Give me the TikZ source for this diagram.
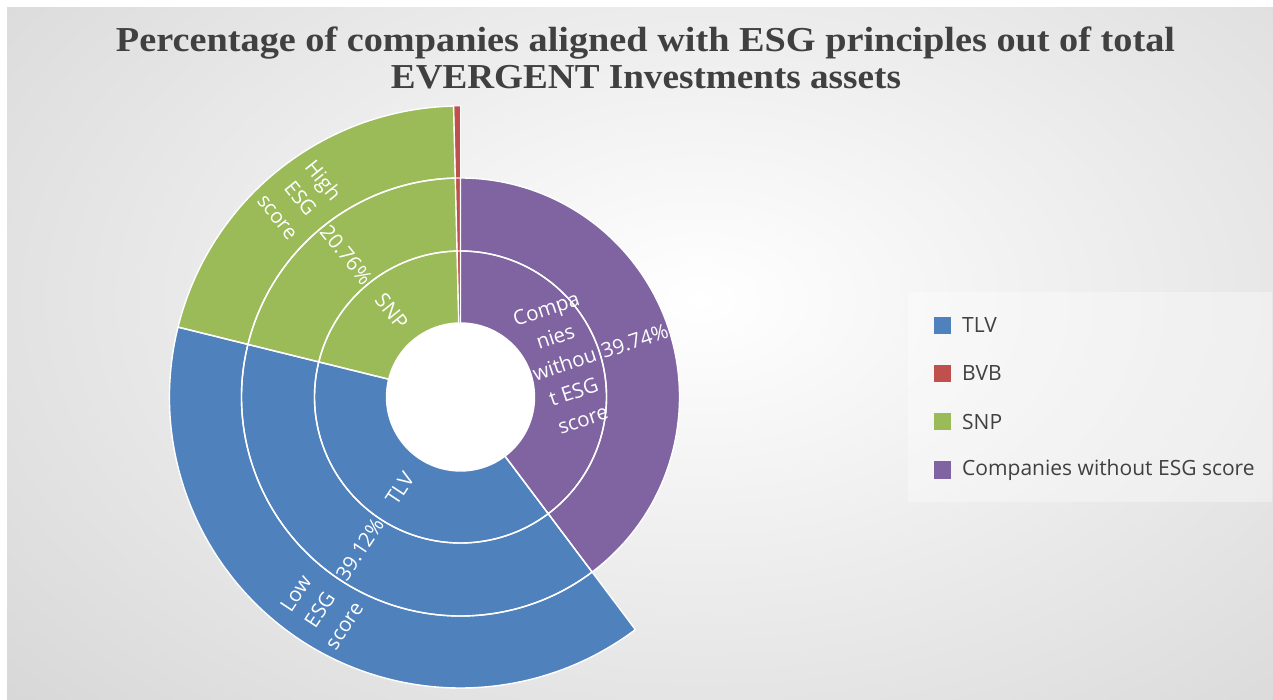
\documentclass[tikz,border=0pt]{standalone}
\usepackage{fontspec}
\setmainfont{Open Sans}
\newfontfamily\titlefont{Liberation Serif}
\usepackage{graphicx}
\definecolor{tlv}{HTML}{4F81BD}
\definecolor{bvb}{HTML}{C0504D}
\definecolor{snp}{HTML}{9BBB59}
\definecolor{cwe}{HTML}{8064A2}
\definecolor{txt}{HTML}{404040}
\definecolor{bgout}{RGB}{192,192,192}
\newcommand\sbpath[5]{\path[#1] (#2:#4) arc[start angle=#2, end angle=#3, radius=#4] -- (#3:#5) arc[start angle=#3, end angle=#2, radius=#5] -- cycle;}
\tikzset{
  seglabel/.style={text=white, font=\fontsize{20.5}{29}\selectfont, align=center, inner sep=0pt},
  legtext/.style={text=txt, font=\fontsize{21}{24}\selectfont, anchor=west, inner sep=0pt},
  legkey/.style={minimum size=17pt, inner sep=0pt},
  sep/.style={draw=white, line width=1.4pt, line join=round},
  titletext/.style={text=txt, font=\titlefont\fontsize{35}{38}\selectfont\bfseries, anchor=base, inner sep=0pt}
}
\begin{document}
\begin{tikzpicture}[x=1pt,y=1pt]
\useasboundingbox (0,0) rectangle (1273,699);
\fill[white] (0,0) rectangle (1273,699);
\begin{scope}
  \clip (7,0) rectangle (1273,691);
  \shade[inner color=white, outer color=bgout] (700,399) ellipse [x radius=1500, y radius=950];
\end{scope}
% title
\node[titletext] (title1) at (645.5,647) {\resizebox{1059pt}{\height}{Percentage of companies aligned with ESG principles out of total}};
\node[titletext] (title2) at (646,610) {\resizebox{510pt}{\height}{EVERGENT Investments assets}};
% sunburst
\begin{scope}[shift={(460.5,302)}]
  % fills
  \sbpath{fill=cwe}{90}{-53.064}{74}{146}
  \sbpath{fill=cwe}{90}{-53.064}{146}{219}
  \sbpath{fill=tlv}{-53.064}{-193.896}{74}{146}
  \sbpath{fill=tlv}{-53.064}{-193.896}{146}{219}
  \sbpath{fill=tlv}{-53.064}{-193.896}{219}{291}
  \sbpath{fill=snp}{-193.896}{-268.632}{74}{146}
  \sbpath{fill=snp}{-193.896}{-268.632}{146}{219}
  \sbpath{fill=snp}{-193.896}{-268.632}{219}{291}
  \sbpath{fill=bvb}{-268.632}{-270}{74}{146}
  \sbpath{fill=bvb}{-268.632}{-270}{146}{219}
  \sbpath{fill=bvb}{-268.632}{-270}{219}{291}
  % white borders
  \sbpath{sep}{90}{-53.064}{74}{146}
  \sbpath{sep}{90}{-53.064}{146}{219}
  \sbpath{sep}{-53.064}{-193.896}{74}{146}
  \sbpath{sep}{-53.064}{-193.896}{146}{219}
  \sbpath{sep}{-53.064}{-193.896}{219}{291}
  \sbpath{sep}{-193.896}{-268.632}{74}{146}
  \sbpath{sep}{-193.896}{-268.632}{146}{219}
  \sbpath{sep}{-193.896}{-268.632}{219}{291}
  \sbpath{draw=white, line width=0.8pt}{-268.632}{-270}{74}{146}
  \sbpath{draw=white, line width=0.8pt}{-268.632}{-270}{146}{219}
  \sbpath{draw=white, line width=0.8pt}{-268.632}{-270}{219}{291}
  \fill[white] (0,0) circle (73.5);
  % labels
  \node[seglabel, rotate=56.52] (ltlv) at (-123.48:110) {TLV};
  \node[seglabel, rotate=56.52] (ptlv) at (-123.48:182.5) {39.12\%};
  \node[seglabel, rotate=56.52] (etlv) at (-123.48:255) {Low\\ESG\\score};
  \node[seglabel, rotate=-51.264] (lsnp) at (128.736:110) {SNP};
  \node[seglabel, rotate=-51.264] (psnp) at (128.736:182.5) {20.76\%};
  \node[seglabel, rotate=-51.264] (esnp) at (128.736:255) {High\\ESG\\score};
  \node[seglabel, rotate=18.468] (lcwe) at (17.5:109) {Compa\\nies\\withou\\t ESG\\score};
  \node[seglabel, rotate=18.468] (pcwe) at (17.8:183) {39.74\%};
\end{scope}
% legend
\fill[white, fill opacity=0.35] (908,197) rectangle (1272,407);
\node[legkey, fill=tlv] (k1) at (942,373.7) {};
\node[legkey, fill=bvb] (k2) at (942,325.5) {};
\node[legkey, fill=snp] (k3) at (942,277.3) {};
\node[legkey, fill=cwe] (k4) at (942,229) {};
\node[legtext] (t1) at (962,373.7) {TLV};
\node[legtext] (t2) at (962,325.5) {BVB};
\node[legtext] (t3) at (962,277.3) {SNP};
\node[legtext] (t4) at (962,229) {Companies without ESG score};
\end{tikzpicture}
\end{document}
